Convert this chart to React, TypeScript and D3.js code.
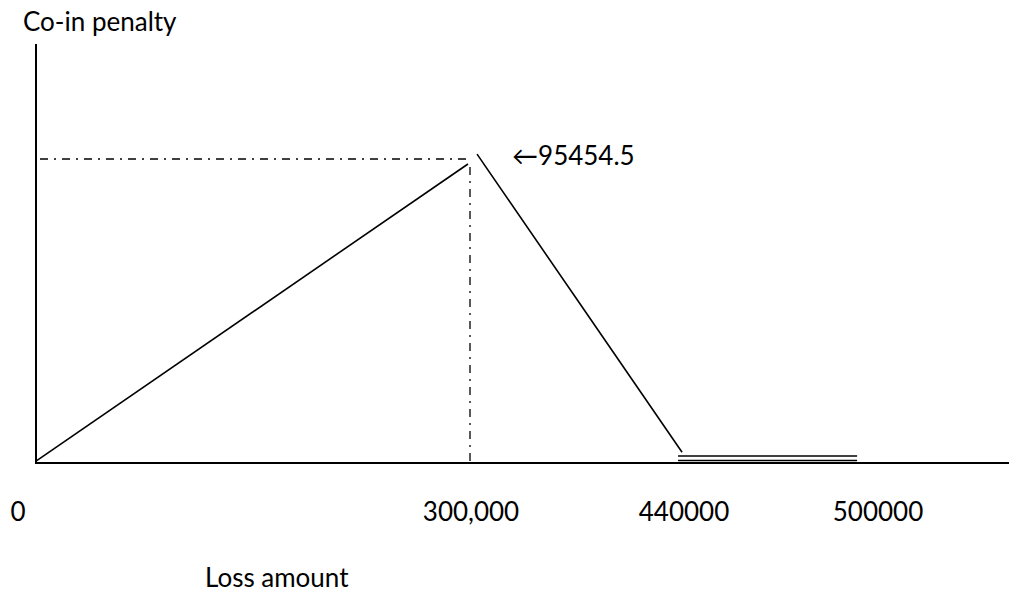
import React from "react";
import * as d3 from "d3";

// values
const tickValues = [0, 300000, 440000, 500000];
const tickLabels = ["0", "300,000", "440000", "500000"];
const peakValue = 95454.5;

const risingLine = [
  { x: 0, y: 600 },
  { x: 298600, y: 94200 },
];
const fallingLine = [
  { x: 304700, y: 97300 },
  { x: 440700, y: 3400 },
];
// the doubled line sitting just above the axis after 440000
const flatStart = 438700;
const flatEnd = 499700;
const flatLevels = [2200, 750];

const xAxisEnd = 700000;
const yAxisTop = 132000;

const WIDTH = 1010;
const HEIGHT = 594;
const FONT = "Lato, 'DejaVu Sans', sans-serif";
const DASH_DOT = "8,6,2,6";

// label nudges (px) relative to each tick
const labelNudge = [-18, 1, 4, 20];

export default function App() {
  // piecewise scale: the sketch is not drawn to scale
  const x = d3
    .scaleLinear()
    .domain([0, 300000, 440000, 500000, xAxisEnd])
    .range([36, 470, 680, 858, 1009]);
  const y = d3.scaleLinear().domain([0, peakValue]).range([463, 160]);

  const line = d3
    .line<{ x: number; y: number }>()
    .x((d) => x(d.x))
    .y((d) => y(d.y));

  return (
    <svg
      width={WIDTH}
      height={HEIGHT}
      style={{ position: "absolute", left: 0, top: 0, background: "#fff" }}
    >
      {/* axes */}
      <line x1={x(0)} x2={x(0)} y1={y(yAxisTop)} y2={y(0) + 1} stroke="#000" strokeWidth={2} />
      <line x1={x(0)} x2={x(xAxisEnd)} y1={y(0)} y2={y(0)} stroke="#000" strokeWidth={2} />

      {/* dash-dot guides to the peak */}
      <line
        x1={x(0) + 4}
        x2={x(300000) - 2}
        y1={y(peakValue) - 1}
        y2={y(peakValue) - 1}
        stroke="#000"
        strokeWidth={1.3}
        strokeDasharray={DASH_DOT}
      />
      <line
        x1={x(300000)}
        x2={x(300000)}
        y1={y(peakValue) + 7}
        y2={y(0) - 1}
        stroke="#000"
        strokeWidth={1.3}
        strokeDasharray={DASH_DOT}
      />

      {/* penalty curve */}
      <path d={line(risingLine) || ""} fill="none" stroke="#000" strokeWidth={1.6} />
      <path d={line(fallingLine) || ""} fill="none" stroke="#000" strokeWidth={1.6} />
      {flatLevels.map((lv, i) => (
        <line
          key={i}
          x1={x(flatStart)}
          x2={x(flatEnd)}
          y1={y(lv)}
          y2={y(lv)}
          stroke="#000"
          strokeWidth={1.5}
        />
      ))}

      {/* texts */}
      <text x={23} y={31} fontFamily={FONT} fontSize={26} fill="#000">
        Co-in penalty
      </text>
      <text x={x(fallingLine[0].x) + 35} y={y(peakValue) + 5} fontFamily={FONT} fontSize={26} fill="#000">
        ←95454.5
      </text>
      {tickValues.map((v, i) => (
        <text
          key={v}
          x={x(v) + labelNudge[i]}
          y={521}
          textAnchor="middle"
          fontFamily={FONT}
          fontSize={26}
          fill="#000"
        >
          {tickLabels[i]}
        </text>
      ))}
      <text x={205} y={587} fontFamily={FONT} fontSize={26} fill="#000">
        Loss amount
      </text>
    </svg>
  );
}
